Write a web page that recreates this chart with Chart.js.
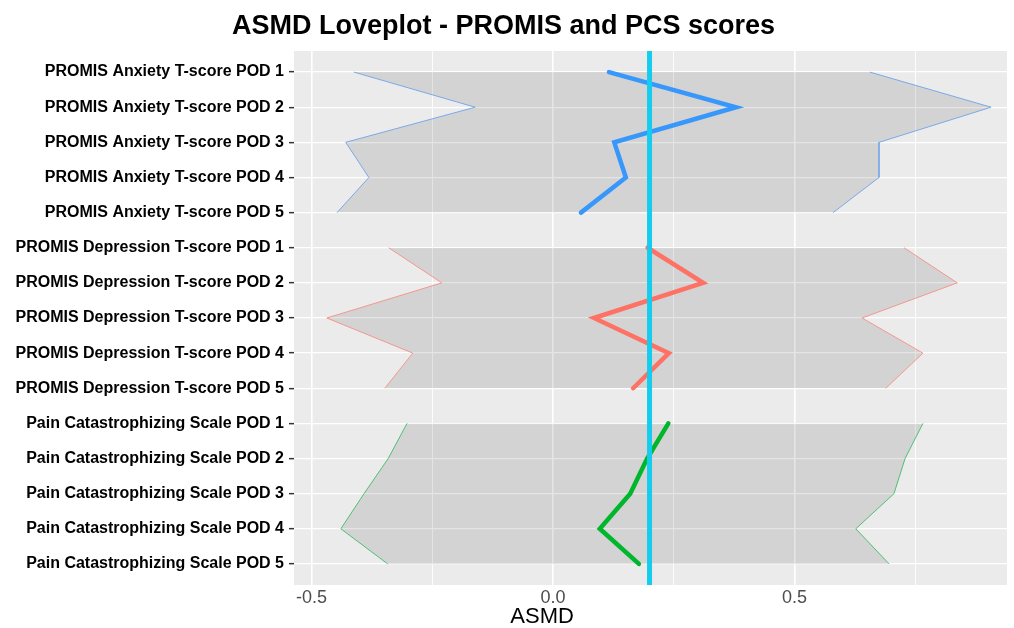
<!DOCTYPE html>
<html>
<head>
<meta charset="utf-8">
<script src="https://cdn.jsdelivr.net/npm/chart.js@4"></script>
<style>
  html, body { margin: 0; padding: 0; background: #fff; }
  #wrap { width: 1014px; height: 628px; }
</style>
</head>
<body>
<div id="wrap"><canvas id="myChart" width="1014" height="628"></canvas></div>
<script>
// category labels, top to bottom
const labels = [
    'PROMIS Anxiety T-score POD 1', 'PROMIS Anxiety T-score POD 2', 'PROMIS Anxiety T-score POD 3',
    'PROMIS Anxiety T-score POD 4', 'PROMIS Anxiety T-score POD 5',
    'PROMIS Depression T-score POD 1', 'PROMIS Depression T-score POD 2', 'PROMIS Depression T-score POD 3',
    'PROMIS Depression T-score POD 4', 'PROMIS Depression T-score POD 5',
    'Pain Catastrophizing Scale POD 1', 'Pain Catastrophizing Scale POD 2', 'Pain Catastrophizing Scale POD 3',
    'Pain Catastrophizing Scale POD 4', 'Pain Catastrophizing Scale POD 5'
]

// ASMD estimate, lower and upper bound per group
const anxiety_est = [0.116, 0.379, 0.127, 0.151, 0.058]
const anxiety_low = [-0.412, -0.161, -0.429, -0.381, -0.447]
const anxiety_high = [0.656, 0.907, 0.675, 0.675, 0.580]

const depression_est = [0.196, 0.311, 0.085, 0.240, 0.166]
const depression_low = [-0.340, -0.230, -0.468, -0.290, -0.348]
const depression_high = [0.727, 0.837, 0.640, 0.766, 0.689]

const pain_est = [0.239, 0.195, 0.160, 0.097, 0.178]
const pain_low = [-0.302, -0.341, -0.391, -0.439, -0.342]
const pain_high = [0.766, 0.729, 0.706, 0.627, 0.696]

const threshold = 0.2
const x_ticks = [-0.5, -0.25, 0, 0.25, 0.5, 0.75]
const x_major = [-0.5, 0, 0.5]

const toPoints = (values, offset) => values.map((v, i) => ({ x: v, y: offset + i }))

const ribbonFill = 'rgba(0,0,0,0.1)'

// order: higher gets drawn first, so ribbons sit under the estimate lines
const groupSets = (low, high, est, offset, thin, thick) => [
    { data: toPoints(low, offset), borderColor: thin, borderWidth: 1, fill: false, order: 3 },
    { data: toPoints(high, offset), borderColor: thin, borderWidth: 1, fill: '-1', backgroundColor: ribbonFill, order: 3 },
    { data: toPoints(est, offset), borderColor: thick, borderWidth: 4.5, fill: false, borderCapStyle: 'round', order: 1 }
]

// draws the x axis title slightly left of centre, like the source
const axisTitle = {
    id: 'axisTitle',
    afterDraw(chart) {
        const ctx = chart.ctx
        const area = chart.chartArea
        ctx.save()
        ctx.font = '22px "Liberation Sans", Arial, sans-serif'
        ctx.fillStyle = '#000'
        ctx.textAlign = 'center'
        ctx.textBaseline = 'middle'
        ctx.fillText('ASMD', area.left + (area.right - area.left) * 0.348, 617)
        ctx.restore()
    }
}

// grey panel background
const panelBg = {
    id: 'panelBg',
    beforeDraw(chart) {
        const { ctx, chartArea: a } = chart
        ctx.save()
        ctx.fillStyle = '#EBEBEB'
        ctx.fillRect(a.left, a.top, a.right - a.left, a.bottom - a.top)
        ctx.restore()
    }
}

const showChart = (canvas_id) => {
    const ctx = document.getElementById(canvas_id)
    new Chart(ctx, {
        type: 'line',
        data: {
            datasets: [
                ...groupSets(anxiety_low, anxiety_high, anxiety_est, 0, '#7aaae8', '#3797fb'),
                ...groupSets(depression_low, depression_high, depression_est, 5, '#f5978f', '#fd7264'),
                ...groupSets(pain_low, pain_high, pain_est, 10, '#4fbf7a', '#00b62c'),
                {
                    data: [{ x: threshold, y: -0.6 }, { x: threshold, y: 14.6 }],
                    borderColor: '#14cdee',
                    borderWidth: 5,
                    fill: false,
                    order: 0
                }
            ]
        },
        options: {
            responsive: false,
            animation: false,
            indexAxis: 'y',
            elements: { point: { radius: 0 }, line: { tension: 0 } },
            layout: { padding: { top: 0, right: 7, left: 0, bottom: 0 } },
            scales: {
                x: {
                    type: 'linear',
                    min: -0.536,
                    max: 0.94,
                    afterBuildTicks: (scale) => { scale.ticks = x_ticks.map(v => ({ value: v })) },
                    afterFit: (scale) => { scale.height = 43 },
                    border: { display: false },
                    grid: {
                        color: '#ffffff',
                        lineWidth: (c) => x_major.includes(c.tick.value) ? 1.6 : 0.9,
                        drawTicks: false
                    },
                    ticks: {
                        autoSkip: false,
                        maxRotation: 0,
                        padding: 2,
                        color: '#4d4d4d',
                        font: { size: 18, family: '"Liberation Sans", Arial, sans-serif' },
                        callback: (v) => x_major.includes(v) ? v.toFixed(1) : ''
                    }
                },
                y: {
                    type: 'linear',
                    reverse: true,
                    min: -0.6,
                    max: 14.6,
                    afterBuildTicks: (scale) => { scale.ticks = labels.map((l, i) => ({ value: i })) },
                    afterFit: (scale) => { scale.width = 294 },
                    border: { display: false },
                    grid: {
                        color: '#ffffff',
                        lineWidth: 1.3,
                        tickColor: '#333333',
                        tickLength: 5,
                        tickWidth: 1.5
                    },
                    ticks: {
                        autoSkip: false,
                        padding: 5,
                        color: '#000000',
                        font: { size: 16, weight: 'bold', family: '"Liberation Sans", Arial, sans-serif' },
                        callback: (v) => labels[v]
                    }
                }
            },
            plugins: {
                legend: { display: false },
                tooltip: { enabled: false },
                title: {
                    display: true,
                    text: 'ASMD Loveplot - PROMIS and PCS scores',
                    color: '#000000',
                    font: { size: 27, weight: 'bold', family: '"Liberation Sans", Arial, sans-serif' },
                    padding: { top: 10, bottom: 8.6 }
                }
            }
        },
        plugins: [panelBg, axisTitle]
    })
}

showChart('myChart')
</script>
</body>
</html>
